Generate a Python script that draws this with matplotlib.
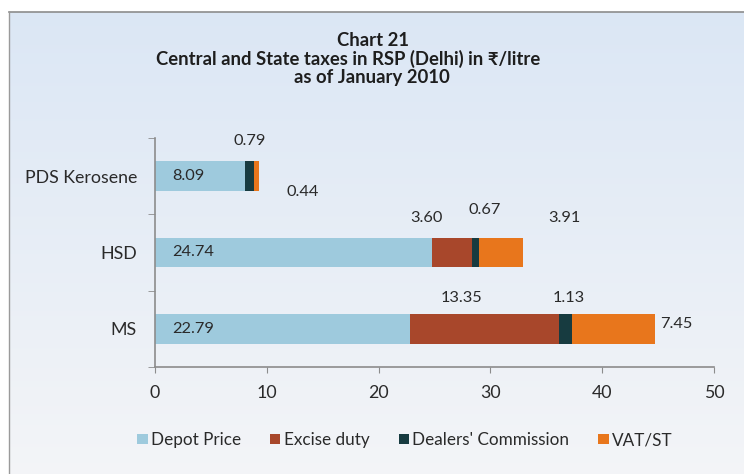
import numpy as np
import matplotlib
matplotlib.use("Agg")
import matplotlib.pyplot as plt

plt.rcParams["font.family"] = ["Lato", "DejaVu Sans"]

# RSP build-up per product, Rs/litre
products = ["PDS Kerosene", "HSD", "MS"]
depot_price = [8.09, 24.74, 22.79]
excise_duty = [0.0, 3.60, 13.35]
dealers_commission = [0.79, 0.67, 1.13]
vat_st = [0.44, 3.91, 7.45]
components = ["Depot Price", "Excise duty", "Dealers' Commission", "VAT/ST"]
colors = ["#9ecadd", "#a8472b", "#173b40", "#e8761c"]
x_ticks = [0, 10, 20, 30, 40, 50]

# label offsets in pixels (dx, dy) from the segment centre, per product
label_offsets = {
    "Excise duty": [None, (-25, 34), (-23, 31)],
    "Dealers' Commission": [(0, 35), (9, 42), (3, 31)],
    "VAT/ST": [(46, -16), (63, 34), None],
}

W, H = 744, 474
fig = plt.figure(figsize=(W / 100, H / 100), dpi=100)

# light gradient panel with a thin border on the top and left
bg = fig.add_axes([0, 0, 1, 1], zorder=-10)
bg.set_xlim(0, W)
bg.set_ylim(H, 0)
bg.axis("off")
top = np.array([0.86, 0.905, 0.96])
bottom = np.array([0.955, 0.96, 0.97])
t = np.linspace(0, 1, 256)[:, None, None]
grad = top * (1 - t) + bottom * t
grad = np.repeat(grad, 2, axis=1)
bg.imshow(grad, extent=(9, W, H, 12), aspect="auto", interpolation="bilinear")
bg.plot([9, W], [12, 12], color="#8c8c8c", lw=1.2)
bg.plot([9, 9], [12, H], color="#9a9a9a", lw=1.0)

title_kw = dict(ha="center", va="center", fontsize=13.3, fontweight="bold", color="#1e1e1e")
fig.text(373 / W, 1 - 40 / H, "Chart 21", **title_kw)
fig.text(348 / W, 1 - 59 / H, "Central and State taxes in RSP (Delhi) in \u20b9/litre", **title_kw)
fig.text(372 / W, 1 - 78 / H, "as of January 2010", **title_kw)

ax = fig.add_axes([155 / W, 1 - 367 / H, (714 - 155) / W, (367 - 138) / H])
ax.patch.set_alpha(0)

y = np.arange(len(products))[::-1]
series = [depot_price, excise_duty, dealers_commission, vat_st]
left = np.zeros(len(products))
for name, vals, col in zip(components, series, colors):
    vals = np.array(vals)
    ax.barh(y, vals, left=left, height=0.39, color=col, label=name)
    for i, v in enumerate(vals):
        if v == 0:
            continue
        txt = f"{v:.2f}"
        if name == "Depot Price":
            ax.annotate(txt, (left[i], y[i]), xytext=(17, 0), textcoords="offset pixels",
                        ha="left", va="center", fontsize=11.8, color="#2a2a2a")
        elif name == "VAT/ST" and label_offsets[name][i] is None:
            ax.annotate(txt, (left[i] + v, y[i]), xytext=(5, 5), textcoords="offset pixels",
                        ha="left", va="center", fontsize=11.8, color="#2a2a2a")
        else:
            dx, dy = label_offsets[name][i]
            ax.annotate(txt, (left[i] + v / 2, y[i]), xytext=(dx, dy),
                        textcoords="offset pixels", ha="center", va="center",
                        fontsize=11.8, color="#2a2a2a")
    left = left + vals

ax.set_xlim(0, 50)
ax.set_ylim(-0.5, 2.5)
ax.set_xticks(x_ticks)
ax.set_yticks(y)
ax.set_yticklabels(products)
ax.set_yticks([-0.5, 0.5, 1.5, 2.5], minor=True)
ax.tick_params(axis="y", which="major", length=0, pad=13, labelsize=12.8, labelcolor="#2a2a2a")
ax.tick_params(axis="y", which="minor", length=5, color="#8c8c8c")
ax.tick_params(axis="x", length=4, color="#8c8c8c", pad=9, labelsize=12.8, labelcolor="#2a2a2a")
for s in ["top", "right"]:
    ax.spines[s].set_visible(False)
for s in ["left", "bottom"]:
    ax.spines[s].set_color("#8c8c8c")
    ax.spines[s].set_linewidth(1.2)

handles, labels = ax.get_legend_handles_labels()
fig.legend(handles, labels, loc="center", bbox_to_anchor=(405 / W, 1 - 440 / H), ncol=4,
           frameon=False, fontsize=12.3, handlelength=0.6, handleheight=0.6,
           handletextpad=0.2, columnspacing=1.7, labelcolor="#2a2a2a")

fig.savefig("out.png", dpi=100)
